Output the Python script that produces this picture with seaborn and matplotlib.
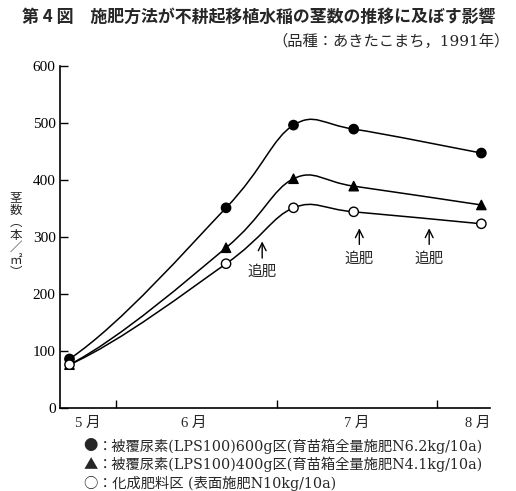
import numpy as np
import pandas as pd
import matplotlib
matplotlib.use("Agg")
import matplotlib.pyplot as plt
from matplotlib.path import Path
from matplotlib.patches import PathPatch
import seaborn as sns

# datos (dias en el eje, tallos por m2)
dias = [4.2, 23.7, 32.1, 39.6, 55.5]
lps600 = [86, 351, 496, 489, 447]
lps400 = [76, 281, 402, 389, 356]
kasei = [76, 253, 351, 344, 323]

meses = ["5 月", "6 月", "7 月", "8 月"]
meses_x = [6.5, 19.7, 40.0, 55.1]
ticks_x = [10, 30, 50]
tuihi_x = [28.2, 40.3, 49.0]

simbolos = ["●", "▲", "○"]
leyenda = [
    "：被覆尿素(LPS100)600g区(育苗箱全量施肥N6.2kg/10a)",
    "：被覆尿素(LPS100)400g区(育苗箱全量施肥N4.1kg/10a)",
    "：化成肥料区 (表面施肥N10kg/10a)",
]

sns.set_style("ticks")
jp = ["Noto Sans CJK JP", "DejaVu Sans"]
num = ["Liberation Serif", "Noto Sans CJK JP"]
ser = ["DejaVu Serif", "Noto Sans CJK JP"]
plt.rcParams['font.family'] = jp

fig = plt.figure(figsize=(5.16, 4.91), dpi=100)
ax = fig.add_axes([0.116, 0.169, 0.834, 0.697])


def curva(xs, ys):
    # curva suave tipo Catmull-Rom dibujada como bezier
    p = np.column_stack([xs, ys]).astype(float)
    p = np.vstack([p[0], p, p[-1]])
    verts = [p[1]]
    codes = [Path.MOVETO]
    for i in range(1, len(p) - 2):
        c1 = p[i] + (p[i + 1] - p[i - 1]) / 6
        if i == 1:
            # arranque un poco mas plano, como en el original
            d = (p[i + 1] - p[i]) / 3
            c1 = p[i] + np.array([d[0], d[1] * 0.7])
        c2 = p[i + 1] - (p[i + 2] - p[i]) / 6
        verts += [c1, c2, p[i + 1]]
        codes += [Path.CURVE4] * 3
    ax.add_patch(PathPatch(Path(verts, codes), fill=False, lw=1.1, ec="black", zorder=2))


for serie in [lps600, lps400, kasei]:
    curva(dias, serie)

df = pd.DataFrame({
    "dia": dias * 3,
    "tallos": lps600 + lps400 + kasei,
    "grupo": ["a"] * 5 + ["b"] * 5 + ["c"] * 5,
})
sns.scatterplot(data=df, x="dia", y="tallos", style="grupo", hue="grupo",
                markers={"a": "o", "b": "^", "c": "o"},
                palette={"a": "black", "b": "black", "c": "white"},
                edgecolor="black", linewidth=1.0, s=45, legend=False, ax=ax, zorder=3)

ax.set_xlim(3.0, 56.6)
ax.set_ylim(0, 600)
ax.set_xticks(ticks_x)
ax.set_xticklabels([])
ax.set_yticks(range(0, 601, 100))
ax.set_yticklabels([str(v) for v in range(0, 601, 100)], fontfamily=num, fontsize=11)
ax.tick_params(direction="in", length=6, width=1, colors="black")
ax.tick_params(axis="y", pad=3)
ax.set_xlabel("")
ax.set_ylabel("")
for s in ["left", "bottom"]:
    ax.spines[s].set_linewidth(1.2)
    ax.spines[s].set_color("black")
sns.despine(ax=ax)

for m, x in zip(meses, meses_x):
    ax.text(x, -27, m, ha="center", va="center", fontsize=10.5, family=num)

# flechas de 追肥
y_punta = [297, 320, 320]
y_cola = [258, 282, 282]
y_txt = [238, 261, 261]
for x, yp, yc, yt in zip(tuihi_x, y_punta, y_cola, y_txt):
    ax.annotate("", xy=(x, yp), xytext=(x, yc),
                arrowprops=dict(arrowstyle="->", lw=1.0, color="black",
                                mutation_scale=14))
    ax.text(x, yt, "追肥", ha="center", va="center", fontsize=10.5)

# etiqueta del eje Y en vertical
fig.text(0.031, 0.521, "茎\n数\n︵\n本\n／\n㎡\n︶", ha="center", va="center",
         fontsize=9, linespacing=0.95)

fig.text(0.043, 0.965, "第 4 図　施肥方法が不耕起移植水稲の茎数の推移に及ぼす影響",
         fontsize=12.2, fontweight="bold", va="center", ha="left")
fig.text(0.988, 0.915, "（品種：あきたこまち，1991年）", fontsize=11,
         va="center", ha="right", family=ser)

for i, (g, t) in enumerate(zip(simbolos, leyenda)):
    y = 0.092 - i * 0.0385
    fig.text(0.162, y, g, fontsize=10.3, va="center", ha="left", family=jp)
    fig.text(0.19, y, t, fontsize=10.3, va="center", ha="left", family=ser)

fig.savefig("out.png", dpi=100)
